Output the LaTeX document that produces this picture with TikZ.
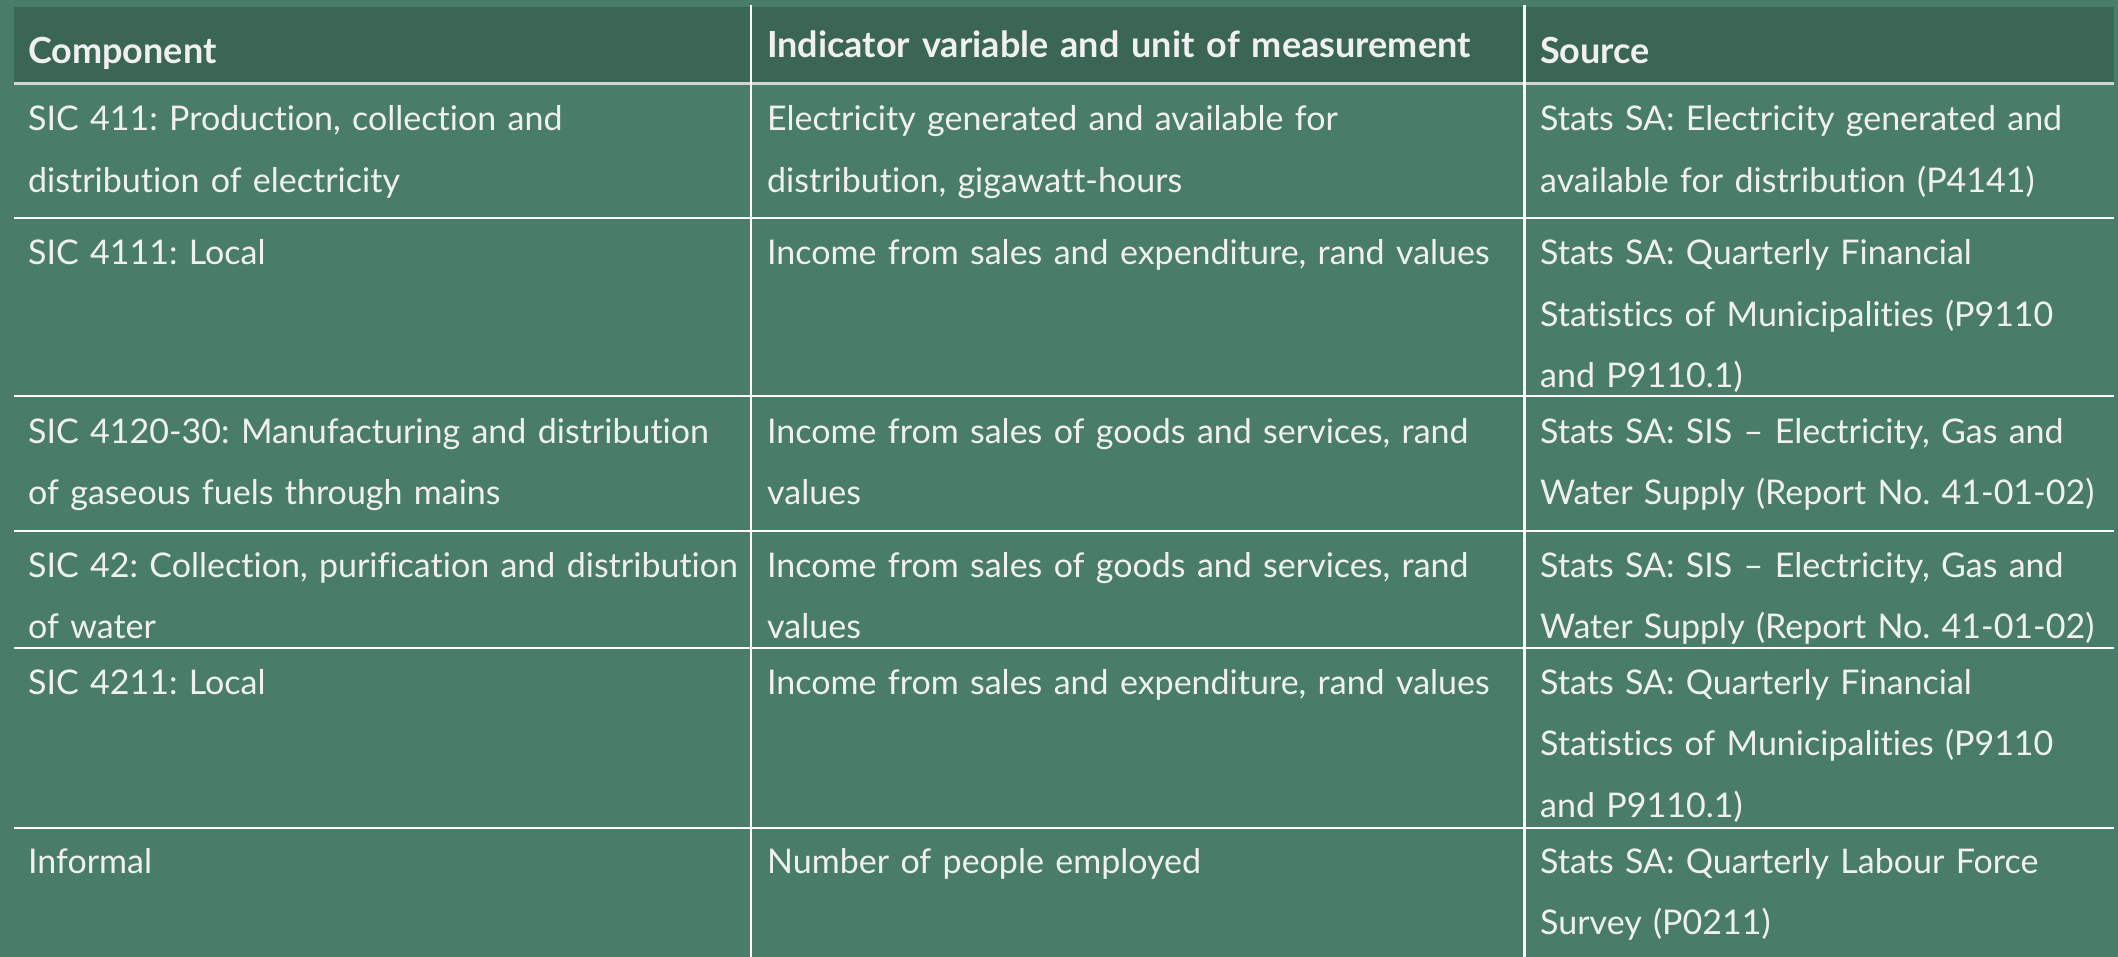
\documentclass[tikz,border=0pt]{standalone}
\usepackage{fontspec}
\setmainfont{Lato}[Ligatures={NoCommon}]
\definecolor{bg}{HTML}{497D68}
\definecolor{hd}{HTML}{3B6654}
\definecolor{txt}{HTML}{F0F0F0}
\definecolor{hline}{HTML}{D2D4D2}
\frenchspacing
\begin{document}
\begin{tikzpicture}[x=1pt,y=-1pt,
  cell/.style={anchor=base west, inner sep=0pt, align=left, text width=760pt, text=txt, font=\fontsize{34}{61.5}\selectfont},
  headcell/.style={cell, font=\bfseries\fontsize{36}{61.5}\selectfont},
  rule/.style={draw=white, line width=2.5pt},
  headrule/.style={draw=hline, line width=3pt}]
\useasboundingbox (0,0) rectangle (2118,957);
\fill[bg] (0,0) rectangle (2118,957);
\fill[hd] (14,7) rectangle (2114,84);
% horizontal rules
\foreach \y in {218,396,531,648,828} \draw[rule] (14,\y) -- (2114,\y);
\draw[headrule] (14,84) -- (2114,84);
% vertical rules
\draw[rule] (751,5) -- (751,957);
\draw[rule] (1524.5,5) -- (1524.5,957);
% header
\node[headcell] (h1) at (28,64) {Component};
\node[headcell] (h2) at (767,58) {Indicator variable and unit of measurement};
\node[headcell] (h3) at (1540,64) {Source};
% row 1
\node[cell] (a1) at (28,131) {SIC 411: Production, collection and\\distribution of electricity};
\node[cell] (b1) at (767,131) {Electricity generated and available for\\distribution, gigawatt-hours};
\node[cell] (c1) at (1540,131) {Stats SA: Electricity generated and\\available for distribution (P4141)};
% row 2
\node[cell] (a2) at (28,265) {SIC 4111: Local};
\node[cell] (b2) at (767,265) {Income from sales and expenditure, rand values};
\node[cell] (c2) at (1540,265) {Stats SA: Quarterly Financial\\Statistics of Municipalities (P9110\\and P9110.1)};
% row 3
\node[cell] (a3) at (28,443) {SIC 4120-30: Manufacturing and distribution\\of gaseous fuels through mains};
\node[cell] (b3) at (767,443) {Income from sales of goods and services, rand\\values};
\node[cell] (c3) at (1540,443) {Stats SA: SIS -- Electricity, Gas and\\Water Supply (Report No. 41-01-02)};
% row 4
\node[cell] (a4) at (28,577) {SIC 42: Collection, purification and distribution\\of water};
\node[cell] (b4) at (767,577) {Income from sales of goods and services, rand\\values};
\node[cell] (c4) at (1540,577) {Stats SA: SIS -- Electricity, Gas and\\Water Supply (Report No. 41-01-02)};
% row 5
\node[cell] (a5) at (28,694) {SIC 4211: Local};
\node[cell] (b5) at (767,694) {Income from sales and expenditure, rand values};
\node[cell] (c5) at (1540,694) {Stats SA: Quarterly Financial\\Statistics of Municipalities (P9110\\and P9110.1)};
% row 6
\node[cell] (a6) at (28,873) {Informal};
\node[cell] (b6) at (767,873) {Number of people employed};
\node[cell] (c6) at (1540,873) {Stats SA: Quarterly Labour Force\\Survey (P0211)};
\end{tikzpicture}
\end{document}
